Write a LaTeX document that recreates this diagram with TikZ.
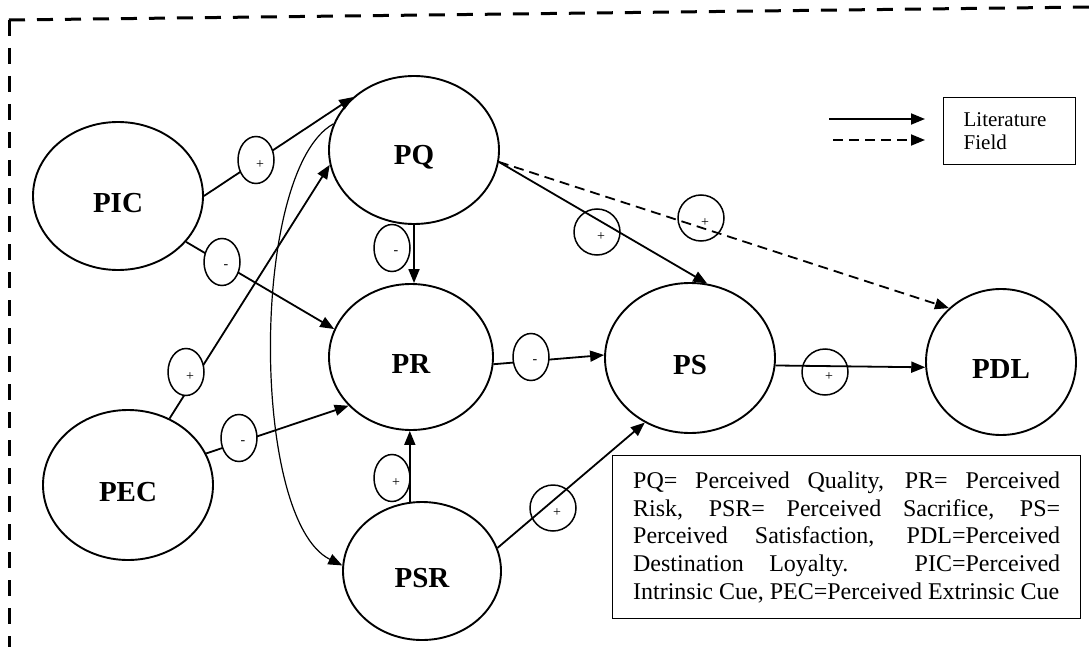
\documentclass[tikz,border=0pt]{standalone}
\usepackage{fontspec}
\setmainfont{Liberation Serif}
\usetikzlibrary{shapes.geometric,arrows.meta,calc}
\newcommand{\lowtxt}[1]{\raisebox{-7pt}[\height][\depth]{#1}}
\begin{document}
\begin{tikzpicture}[x=1pt,y=-1pt,
  concept/.style={draw, ellipse, line width=1.9pt, inner sep=0pt,
    font=\fontsize{29}{32}\selectfont\bfseries},
  sgnlab/.style={font=\fontsize{14}{14}\selectfont, xshift=4pt, yshift=-5pt, inner sep=0pt},
  sgn/.style={draw, ellipse, line width=1.5pt, fill=white, minimum width=36pt,
    minimum height=47pt, inner sep=0pt},
  sgc/.style={draw, circle, line width=1.5pt, minimum size=46pt, inner sep=0pt},
  tip/.style={-{Triangle[length=14pt,width=11pt]}},
  arr/.style={line width=1.8pt, tip},
  darr/.style={line width=1.8pt, tip, dash pattern=on 10pt off 6pt},
  curvearr/.style={line width=1.2pt, tip},
  frame/.style={line width=3pt, dash pattern=on 16pt off 12pt},
  keybox/.style={draw, line width=1.3pt, anchor=north west},
]
\useasboundingbox (0,0) rectangle (1091,647);

% frame
\draw[frame] (9,20) -- (1091,7);
\draw[frame] (9,20) -- (9,647);

% concepts
\node[concept, minimum width=170pt, minimum height=148pt] (PIC) at (118,196) {\lowtxt{PIC}};
\node[concept, minimum width=170pt, minimum height=148pt] (PQ)  at (414,150) {\lowtxt{PQ}};
\node[concept, minimum width=164pt, minimum height=146pt] (PR)  at (411,357) {\lowtxt{PR}};
\node[concept, minimum width=170pt, minimum height=150pt] (PS)  at (690,358) {\lowtxt{PS}};
\node[concept, minimum width=150pt, minimum height=146pt] (PDL) at (1001,362) {\lowtxt{PDL}};
\node[concept, minimum width=170pt, minimum height=150pt] (PEC) at (128,485) {\lowtxt{PEC}};
\node[concept, minimum width=158pt, minimum height=138pt] (PSR) at (422,571) {\lowtxt{PSR}};

% connectors
\draw[arr] (PIC.east) -- (PQ.139);
\draw[arr] (PIC.-34) -- (PR.160);
\draw[arr] (PEC.58) -- (PQ.190);
\draw[arr] (PEC.22) -- (PR.218);
\draw[arr] (PQ.south) -- (PQ.south |- PR.north);
\draw[arr] (PSR.100) -- (PSR.100 |- PR.south);
\draw[arr] (PR.-5) -- (PS.178);
\draw[arr] (PQ.-8) -- (PS.77);
\draw[darr] (PQ.-8) -- (PDL.134);
\draw[arr] (PS.-5) -- (PDL.184);
\draw[arr] (PSR.17) -- (PS.235);
\draw[curvearr] (PQ.162) .. controls (250,170) and (250,520) .. (PSR.176);

% sign labels
\node[sgn, label={[sgnlab]center:+}] (s1) at (256,160) {};
\node[sgn, label={[sgnlab]center:-}] (s2) at (222,262) {};
\node[sgn, label={[sgnlab]center:+}] (s3) at (186,372) {};
\node[sgn, label={[sgnlab]center:-}] (s4) at (239,438) {};
\node[sgn, label={[sgnlab]center:-}] (s5) at (392,248) {};
\node[sgn, label={[sgnlab]center:+}] (s6) at (392,478) {};
\node[sgn, label={[sgnlab]center:-}] (s7) at (531,357) {};
\node[sgc, label={[sgnlab]center:+}] (s8) at (597,232) {};
\node[sgc, label={[sgnlab]center:+}] (s9) at (701,218) {};
\node[sgc, label={[sgnlab]center:+}] (s10) at (825,372) {};
\node[sgc, label={[sgnlab]center:+}] (s11) at (553,508) {};

% legend of line styles
\coordinate (la1) at (829,119);
\coordinate (la2) at (925,119);
\coordinate (lb1) at (833,140);
\coordinate (lb2) at (925,140);
\draw[arr] (la1) -- (la2);
\draw[darr] (lb1) -- (lb2);
\node[keybox, text width=92pt, align=left, inner xsep=20pt, inner ysep=15pt,
  font=\fontsize{21}{23}\selectfont] (lit) at (943,97) {Literature\\Field};

% abbreviations box
\node[keybox, text width=427pt, align=justify, inner xsep=20.5pt, inner ysep=16pt,
  font=\fontsize{24}{27.7}\selectfont] (abbr) at (612,455)
  {PQ= Perceived Quality, PR= Perceived\linebreak
   Risk, PSR= Perceived Sacrifice, PS=\linebreak
   Perceived Satisfaction, PDL=Perceived\linebreak
   Destination Loyalty. PIC=Perceived\linebreak
   Intrinsic Cue, PEC=Perceived Extrinsic Cue};
\end{tikzpicture}
\end{document}
